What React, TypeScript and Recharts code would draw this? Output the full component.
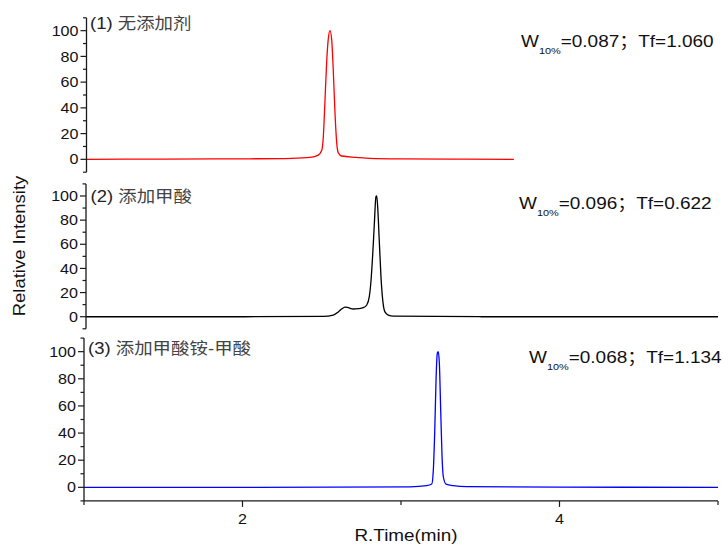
import React from 'react';
import { LineChart, Line, XAxis, YAxis } from 'recharts';

const FONT = '"Liberation Sans", Arial, "Noto Sans CJK SC", sans-serif';
const AXIS = '#1a1a1a';

// (1) 无添加剂 - red trace, ends around 3.7 min
const redTime = [1.0, 1.5, 2.0, 2.3, 2.416, 2.468, 2.49, 2.5, 2.51, 2.521, 2.531, 2.542, 2.553, 2.563, 2.574, 2.585, 2.595, 2.616, 2.711, 2.795, 3.0, 3.4, 3.707];
const redIntensity = [0, 0.2, 0.4, 0.8, 1.5, 3.3, 7, 17.6, 44, 75, 93, 100, 93, 69.5, 36, 12.6, 5, 2.6, 1.5, 0.7, 0.3, 0.1, 0];

// (2) 添加甲酸 - black trace with a small front shoulder
const blackTime = [1.0, 2.0, 2.5, 2.565, 2.597, 2.618, 2.639, 2.66, 2.692, 2.723, 2.755, 2.777, 2.793, 2.804, 2.815, 2.825, 2.835, 2.84, 2.846, 2.856, 2.867, 2.878, 2.892, 2.913, 2.945, 3.5, 4.0, 5.0];
const blackIntensity = [0, 0, 0.3, 1.4, 4, 6.4, 8, 7.5, 6.4, 6.7, 7.5, 9.7, 16.6, 30, 52.5, 77, 99.4, 100, 91, 63.5, 33, 13.8, 4, 1.4, 0.5, 0, 0, 0];

// (3) 添加甲酸铵-甲酸 - blue trace
const blueTime = [1.0, 2.0, 3.057, 3.162, 3.194, 3.204, 3.213, 3.221, 3.229, 3.235, 3.242, 3.251, 3.259, 3.267, 3.284, 3.33, 3.415, 4.0, 5.0];
const blueIntensity = [0, 0, 0.4, 1.2, 2.4, 12.8, 42, 79, 98.8, 100, 91.4, 54.6, 22.6, 7.8, 2.4, 1.2, 0.5, 0.2, 0];

const yTicks = [-10, 0, 10, 20, 30, 40, 50, 60, 70, 80, 90, 100, 110];
const xTicks = [1, 2, 3, 4, 5];

const titles = ['(1) ', '(2) ', '(3) '];
const titlesCn = ['无添加剂', '添加甲酸', '添加甲酸铵-甲酸'];
const w10 = ['=0.087；Tf=1.060', '=0.096；Tf=0.622', '=0.068；Tf=1.134'];

const toRows = (t: number[], v: number[]) => t.map((x, i) => ({ t: x, v: v[i] }));

const YTick = (props: any) => {
  const { x, y, payload } = props;
  const v = payload.value;
  const major = v >= 0 && v <= 100 && v % 20 === 0;
  return (
    <g>
      <line x1={x - (major ? 6 : 3.5)} y1={y} x2={x} y2={y} stroke={AXIS} strokeWidth={1.2} />
      {major && (
        <text transform={`translate(${x - 8},${y}) scale(1.15,1)`} textAnchor="end" dominantBaseline="central"
          fontSize={14} fontFamily={FONT} fill="#111">{v}</text>
      )}
    </g>
  );
};

const XTick = (props: any) => {
  const { x, y, payload } = props;
  const v = payload.value;
  const major = v % 2 === 0;
  return (
    <g>
      <line x1={x} y1={y} x2={x} y2={y + (major ? 6 : 4)} stroke={AXIS} strokeWidth={1.2} />
      {major && (
        <text transform={`translate(${x},${y + 23}) scale(1.15,1)`} textAnchor="middle"
          fontSize={14} fontFamily={FONT} fill="#111">{v}</text>
      )}
    </g>
  );
};

type PanelProps = {
  data: { t: number; v: number }[];
  color: string;
  top: number;
  height: number;
  margin: { top: number; right: number; bottom: number; left: number };
  yWidth: number;
  showX?: boolean;
};

const Panel = ({ data, color, top, height, margin, yWidth, showX }: PanelProps) => (
  <div style={{ position: 'absolute', left: 0, top }}>
    <LineChart width={723} height={height} data={data} margin={margin}>
      <XAxis type="number" dataKey="t" domain={[1, 5]} ticks={xTicks} hide={!showX} height={30}
        interval={0} tickSize={0} tickMargin={0} tickLine={false} tick={<XTick />}
        axisLine={{ stroke: AXIS, strokeWidth: 1.3 }} />
      <YAxis type="number" domain={[-10, 110]} ticks={yTicks} width={yWidth} interval={0}
        tickSize={0} tickMargin={0} tickLine={false} tick={<YTick />}
        axisLine={{ stroke: AXIS, strokeWidth: 1.3 }} />
      <Line type="monotone" dataKey="v" stroke={color} strokeWidth={1.3} dot={false} isAnimationActive={false} />
    </LineChart>
  </div>
);

const Annot = ({ x, y, i }: { x: number; y: number; i: number }) => (
  <text transform={`translate(${x},${y}) scale(1.15,1)`} fontSize={16.5} fontFamily={FONT} fill="#111">
    W<tspan fontSize={9.5} dy={7}>10%</tspan><tspan dy={-7}>{w10[i]}</tspan>
  </text>
);

const Title = ({ x, y, i }: { x: number; y: number; i: number }) => (
  <text transform={`translate(${x},${y}) scale(1.12,1)`} fontSize={16.5} fontFamily={FONT} fill="#222">
    {titles[i]}<tspan fill="#444">{titlesCn[i]}</tspan>
  </text>
);

const App = () => (
  <div style={{ position: 'absolute', left: 0, top: 0, width: 723, height: 544, background: '#fff' }}>
    <Panel data={toRows(redTime, redIntensity)} color="#ff0000" top={0} height={180}
      margin={{ top: 17.8, right: 5, bottom: 7.8, left: 0 }} yWidth={86.5} />
    <Panel data={toRows(blackTime, blackIntensity)} color="#000000" top={180} height={155}
      margin={{ top: 3.9, right: 5, bottom: 6.2, left: 0 }} yWidth={86} />
    <Panel data={toRows(blueTime, blueIntensity)} color="#0000ff" top={335} height={209}
      margin={{ top: 3.1, right: 5, bottom: 13.1, left: 0 }} yWidth={84} showX />
    <svg width={723} height={544} style={{ position: 'absolute', left: 0, top: 0, pointerEvents: 'none' }}>
      <Title x={90} y={29} i={0} />
      <Title x={90.5} y={202} i={1} />
      <Title x={88} y={353.5} i={2} />
      <Annot x={521} y={46.5} i={0} />
      <Annot x={519} y={208.5} i={1} />
      <Annot x={529} y={363} i={2} />
      <text transform="translate(25,246) rotate(-90) scale(1.12,1)" textAnchor="middle" fontSize={16.5}
        fontFamily={FONT} fill="#111">Relative Intensity</text>
      <text transform="translate(406,540.5) scale(1.18,1)" textAnchor="middle" fontSize={16}
        fontFamily={FONT} fill="#111">R.Time(min)</text>
    </svg>
  </div>
);

export default App;
